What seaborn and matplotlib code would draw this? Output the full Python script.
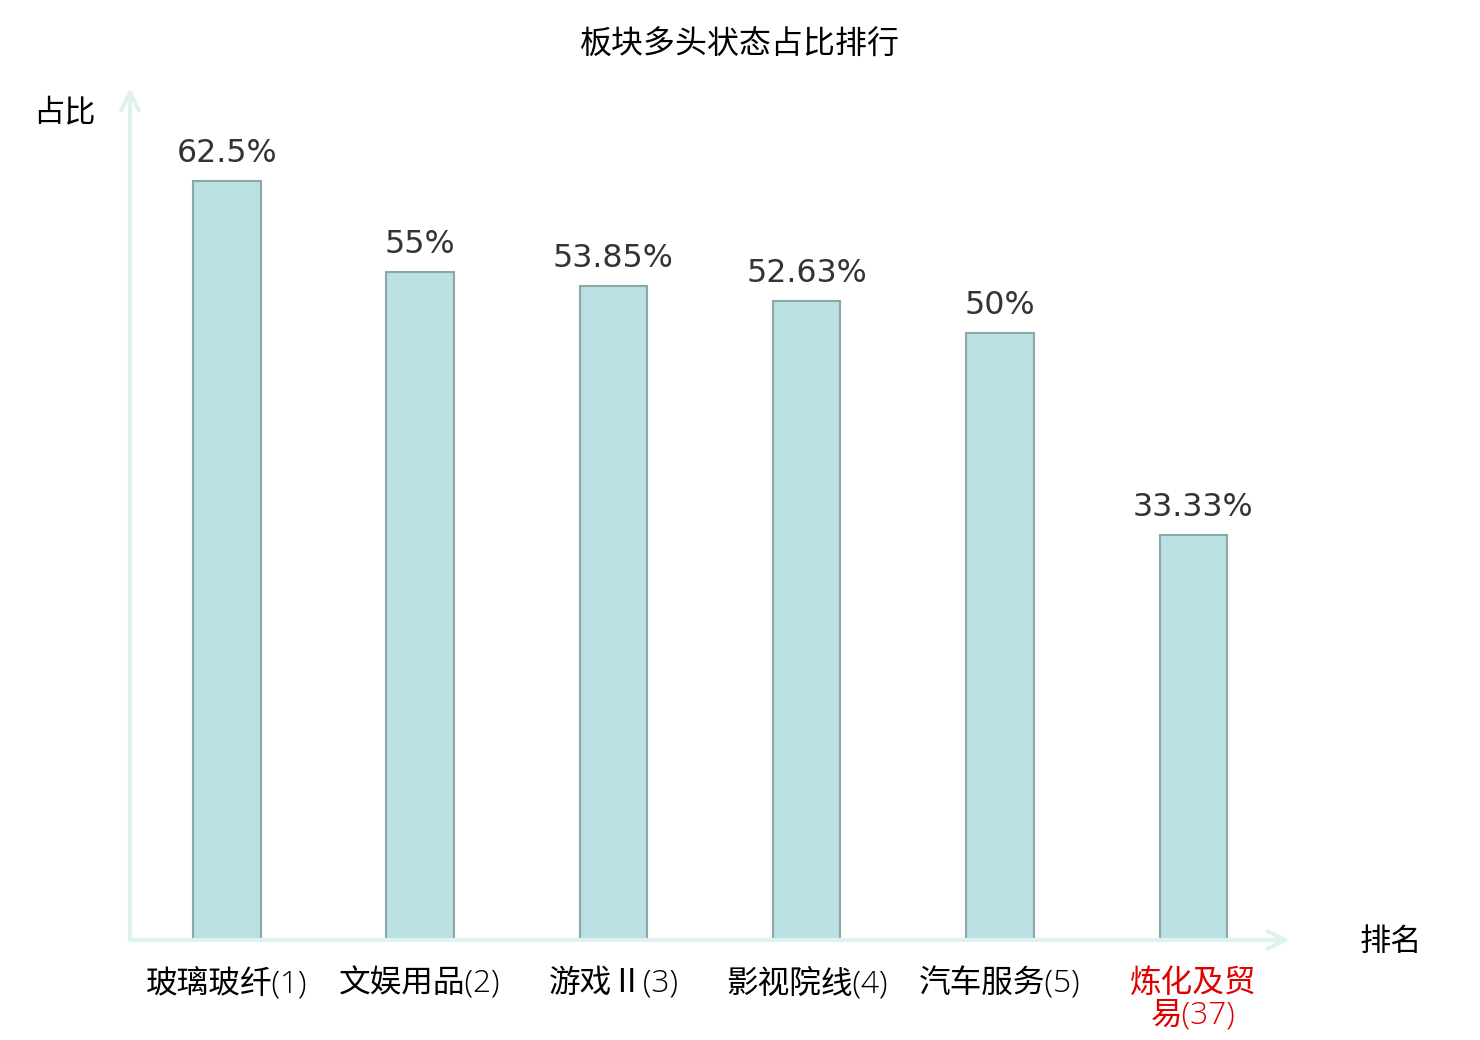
import matplotlib
matplotlib.use("Agg")
import matplotlib.pyplot as plt
import seaborn as sns
import pandas as pd

# data
sectors = ["玻璃玻纤(1)", "文娱用品(2)", "游戏Ⅱ(3)", "影视院线(4)", "汽车服务(5)", "炼化及贸\n易(37)"]
ratios = [62.5, 55, 53.85, 52.63, 50, 33.33]
ratio_labels = ["62.5%", "55%", "53.85%", "52.63%", "50%", "33.33%"]
highlight = [False, False, False, False, False, True]

sns.set_theme(style="white")
plt.rcParams["font.family"] = ["Noto Sans CJK SC", "DejaVu Sans"]

df = pd.DataFrame({"sector": sectors, "ratio": ratios})

fig = plt.figure(figsize=(14.8, 10.4), dpi=100)
ax = fig.add_axes([130 / 1480, 100 / 1040, 1160 / 1480, 852 / 1040])

sns.barplot(data=df, x="sector", y="ratio", ax=ax, width=0.35,
            color="#bbe0e3", saturation=1, edgecolor="#8aa8a8", linewidth=1.5)

ax.set_xlim(-0.5, 5.5)
ax.set_ylim(0, 70.2)

for i, (v, lab) in enumerate(zip(ratios, ratio_labels)):
    ax.text(i, v + 1.0, lab, ha="center", va="bottom", fontsize=22.8,
            color="#333333", family=["DejaVu Sans"])

for s in ax.spines.values():
    s.set_visible(False)
ax.set_yticks([])
ax.tick_params(axis="x", length=0, pad=20, labelsize=22.8)
for t, hl in zip(ax.get_xticklabels(), highlight):
    t.set_color("#e00000" if hl else "black")
    t.set_linespacing(1.0)
    t.set_family(["Open Sans", "Noto Sans CJK SC"])
    t.set_fontweight("light")
ax.set_xlabel("")
ax.set_ylabel("")

# axis arrows
axis_col = "#dff2f0"
ax.annotate("", xy=(1.0, 0), xytext=(0, 0), xycoords="axes fraction",
            arrowprops=dict(arrowstyle="->", color=axis_col, lw=3,
                            mutation_scale=32, shrinkA=0, shrinkB=0))
ax.annotate("", xy=(0, 1.0), xytext=(0, 0), xycoords="axes fraction",
            arrowprops=dict(arrowstyle="->", color=axis_col, lw=3,
                            mutation_scale=32, shrinkA=0, shrinkB=0))

fig.text(64 / 1480, 1 - 112 / 1040, "占比", ha="center", va="center", fontsize=22.5, color="black")
fig.text(1391 / 1480, 1 - 942 / 1040, "排名", ha="center", va="center", fontsize=22.5, color="black")
fig.text(740 / 1480, 1 - 45 / 1040, "板块多头状态占比排行", ha="center", va="center", fontsize=23, color="black")

fig.savefig("out.png", dpi=100)
